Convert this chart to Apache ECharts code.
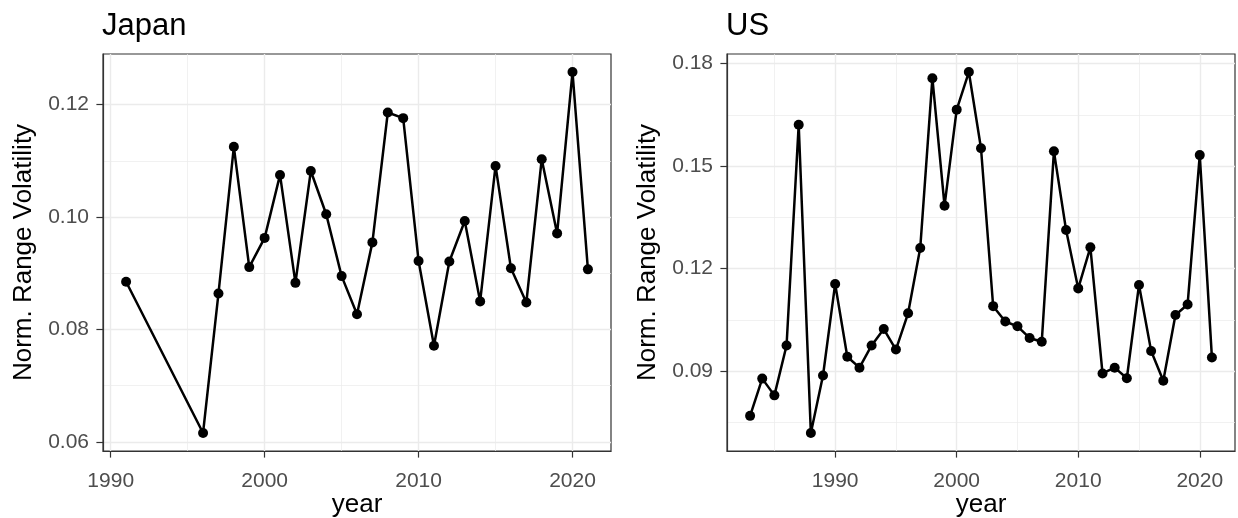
<!DOCTYPE html>
<html>
<head>
<meta charset="utf-8">
<script src="https://cdn.jsdelivr.net/npm/echarts@6/dist/echarts.min.js"></script>
<style>
html,body{margin:0;padding:0;background:#fff;}
#chart{width:1238px;height:518px;}
</style>
</head>
<body>
<div id="chart"></div>
<script>
// ---------- data ----------
const panelTitles = ['Japan', 'US'];
const japanYears = [1991, 1996, 1997, 1998, 1999, 2000, 2001, 2002, 2003, 2004, 2005, 2006, 2007, 2008, 2009, 2010, 2011, 2012, 2013, 2014, 2015, 2016, 2017, 2018, 2019, 2020, 2021];
const japanVals = [0.0885, 0.0616, 0.0864, 0.1125, 0.0911, 0.0963, 0.1075, 0.0883, 0.1082, 0.1005, 0.0895, 0.0827, 0.0955, 0.1186, 0.1176, 0.0922, 0.0771, 0.0921, 0.0993, 0.0850, 0.1091, 0.0909, 0.0848, 0.1103, 0.0971, 0.1258, 0.0907];
const usYears = [1983, 1984, 1985, 1986, 1987, 1988, 1989, 1990, 1991, 1992, 1993, 1994, 1995, 1996, 1997, 1998, 1999, 2000, 2001, 2002, 2003, 2004, 2005, 2006, 2007, 2008, 2009, 2010, 2011, 2012, 2013, 2014, 2015, 2016, 2017, 2018, 2019, 2020, 2021];
const usVals = [0.0769, 0.0878, 0.0829, 0.0975, 0.1621, 0.0719, 0.0887, 0.1155, 0.0942, 0.0910, 0.0975, 0.1023, 0.0963, 0.1069, 0.1260, 0.1757, 0.1384, 0.1665, 0.1775, 0.1552, 0.1090, 0.1045, 0.1031, 0.0997, 0.0986, 0.1543, 0.1313, 0.1142, 0.1262, 0.0893, 0.0910, 0.0879, 0.1152, 0.0959, 0.0872, 0.1064, 0.1095, 0.1532, 0.0940];
const xTicks = [1990, 2000, 2010, 2020];
const japanXMinor = [1995, 2005, 2015];
const usXMinor = [1985, 1995, 2005, 2015];
const japanYTicks = [0.06, 0.08, 0.10, 0.12];
const japanYMinor = [0.07, 0.09, 0.11];
const usYTicks = [0.09, 0.12, 0.15, 0.18];
const usYMinor = [0.075, 0.105, 0.135, 0.165];
const xTitle = 'year';
const yTitle = 'Norm. Range Volatility';

// ---------- helpers ----------
const FONT = '"Liberation Sans", Arial, Helvetica, sans-serif';
function expand(arr) {
  const mn = Math.min(...arr), mx = Math.max(...arr), r = mx - mn;
  return [mn - 0.05 * r, mx + 0.05 * r];
}
const panels = [
  {years: japanYears, vals: japanVals, xMinor: japanXMinor, yTicks: japanYTicks, yMinor: japanYMinor, left: 103},
  {years: usYears, vals: usVals, xMinor: usXMinor, yTicks: usYTicks, yMinor: usYMinor, left: 727}
];
const grids = [], xAxes = [], yAxes = [], series = [], titles = [];
panels.forEach((p, i) => {
  const xr = expand(p.years), yr = expand(p.vals);
  grids.push({left: p.left, top: 54, width: 508, height: 397, show: true,
    backgroundColor: '#fff', borderColor: '#333333', borderWidth: 1.2,
    containLabel: false, outerBoundsMode: 'none'});
  titles.push({text: panelTitles[i], left: p.left - 1, top: 11, padding: 0,
    textStyle: {fontFamily: FONT, fontSize: 31, fontWeight: 'normal', color: '#000'}});
  // major x
  xAxes.push({type: 'value', gridIndex: i, min: xr[0], max: xr[1], position: 'bottom',
    name: xTitle, nameLocation: 'middle', nameGap: 41, nameMoveOverlap: false,
    nameTextStyle: {fontFamily: FONT, fontSize: 26, color: '#000'},
    axisLine: {show: true, onZero: false, lineStyle: {color: '#333333', width: 1.2}},
    axisTick: {show: true, length: 6.6, customValues: xTicks, lineStyle: {color: '#333333', width: 1.2}},
    axisLabel: {show: true, customValues: xTicks, margin: 20, fontFamily: FONT, fontSize: 21, color: '#4d4d4d',
      formatter: v => String(v)},
    splitLine: {show: true, lineStyle: {color: '#ebebeb', width: 1.4}}, z: 2});
  // minor x
  xAxes.push({type: 'value', gridIndex: i, min: xr[0], max: xr[1], position: 'top',
    axisLine: {show: false}, axisTick: {show: false, customValues: p.xMinor},
    axisLabel: {show: false, customValues: p.xMinor},
    splitLine: {show: true, lineStyle: {color: '#ebebeb', width: 0.7}}, z: 1});
  // major y
  yAxes.push({type: 'value', gridIndex: i, min: yr[0], max: yr[1], position: 'left',
    name: yTitle, nameLocation: 'middle', nameGap: 66, nameRotate: 90,
    nameTextStyle: {fontFamily: FONT, fontSize: 26, color: '#000'},
    axisLine: {show: true, onZero: false, lineStyle: {color: '#333333', width: 1.2}},
    axisTick: {show: true, length: 6.6, customValues: p.yTicks, lineStyle: {color: '#333333', width: 1.2}},
    axisLabel: {show: true, customValues: p.yTicks, margin: 14, fontFamily: FONT, fontSize: 21, color: '#4d4d4d',
      formatter: v => v.toFixed(2)},
    splitLine: {show: true, lineStyle: {color: '#ebebeb', width: 1.4}}, z: 2});
  // minor y
  yAxes.push({type: 'value', gridIndex: i, min: yr[0], max: yr[1], position: 'right',
    axisLine: {show: false}, axisTick: {show: false, customValues: p.yMinor},
    axisLabel: {show: false, customValues: p.yMinor},
    splitLine: {show: true, lineStyle: {color: '#ebebeb', width: 0.7}}, z: 1});
  series.push({type: 'line', xAxisIndex: 2 * i, yAxisIndex: 2 * i,
    data: p.years.map((y, k) => [y, p.vals[k]]),
    symbol: 'circle', symbolSize: 10, showAllSymbol: true,
    lineStyle: {color: '#000', width: 2.5}, itemStyle: {color: '#000'},
    animation: false, z: 5});
});

const chart = echarts.init(document.getElementById('chart'), null, {renderer: 'canvas'});
chart.setOption({
  animation: false,
  backgroundColor: '#fff',
  title: titles,
  grid: grids,
  xAxis: xAxes,
  yAxis: yAxes,
  series: series
});
</script>
</body>
</html>
